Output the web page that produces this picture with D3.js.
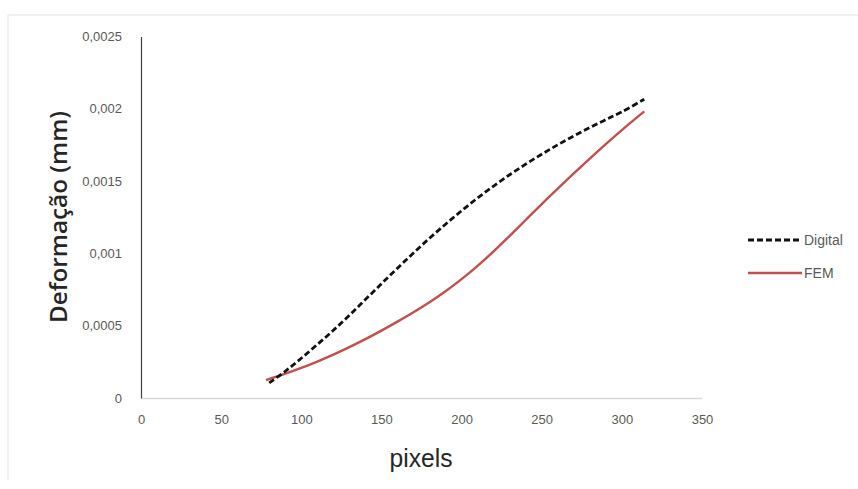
<!DOCTYPE html>
<html>
<head>
<meta charset="utf-8">
<script src="https://cdn.jsdelivr.net/npm/d3@7"></script>
<style>
  html, body { margin: 0; padding: 0; background: #fff; }
  svg { display: block; }
</style>
</head>
<body>
<svg id="chart" width="858" height="489"></svg>
<script>
// Displacement vs. pixel position: digital measurement against FEM model
const digitalX = [80, 90, 100, 110, 120, 130, 140, 150, 160, 170, 180, 190, 200, 210, 220, 230, 240, 250, 260, 270, 280, 290, 300, 314];
const digitalY = [0.000104, 0.000185, 0.000275, 0.00037, 0.000468, 0.000572, 0.000681, 0.00079, 0.000898, 0.001003, 0.001105, 0.001202, 0.001295, 0.001383, 0.001466, 0.001544, 0.001617, 0.001686, 0.001751, 0.001812, 0.00187, 0.001925, 0.001979, 0.002066];

const femX = [78, 90, 100, 110, 120, 130, 140, 150, 160, 170, 180, 190, 200, 210, 220, 230, 240, 250, 260, 270, 280, 290, 300, 314];
const femY = [0.000124, 0.000168, 0.000208, 0.000252, 0.0003, 0.000352, 0.000407, 0.000466, 0.000528, 0.000593, 0.000662, 0.000738, 0.000822, 0.000914, 0.001014, 0.001121, 0.001231, 0.001341, 0.001448, 0.001553, 0.001656, 0.001756, 0.001853, 0.001982];

const xTicks = [0, 50, 100, 150, 200, 250, 300, 350];
const yTicks = [0, 0.0005, 0.001, 0.0015, 0.002, 0.0025];
const yTickLabels = ["0", "0,0005", "0,001", "0,0015", "0,002", "0,0025"];

const seriesNames = ["Digital", "FEM"];

const svg = d3.select("#chart");
const tickFont = "'Liberation Sans', Arial, sans-serif";

const x = d3.scaleLinear().domain([0, 350]).range([141, 702]);
const y = d3.scaleLinear().domain([0, 0.0025]).range([398, 36.5]);

// outer frame (top and left edges only visible)
svg.append("line").attr("x1", 8).attr("x2", 858).attr("y1", 15).attr("y2", 15)
  .attr("stroke", "#e3e3e3").attr("stroke-width", 1);
svg.append("line").attr("x1", 8).attr("x2", 8).attr("y1", 15).attr("y2", 480)
  .attr("stroke", "#e3e3e3").attr("stroke-width", 1);

// x axis
const xAxis = svg.append("g").attr("transform", `translate(0,${y(0)})`)
  .call(d3.axisBottom(x).tickValues(xTicks).tickSize(0).tickPadding(17).tickFormat(d3.format("d")));
xAxis.select(".domain").attr("stroke", "#d9d9d9").attr("stroke-width", 1.5);
xAxis.selectAll("text").attr("font-family", tickFont).attr("font-size", 13).attr("fill", "#595959");

// y axis
const yAxis = svg.append("g").attr("transform", `translate(${x(0)},0)`)
  .call(d3.axisLeft(y).tickValues(yTicks).tickSize(0).tickPadding(19)
    .tickFormat((d, i) => yTickLabels[i]));
yAxis.select(".domain").attr("stroke", "#404040").attr("stroke-width", 1.2);
yAxis.selectAll("text").attr("font-family", tickFont).attr("font-size", 13).attr("fill", "#595959");

// axis titles
svg.append("text")
  .attr("transform", `translate(67,217) rotate(-90)`)
  .attr("text-anchor", "middle")
  .attr("font-family", "'Open Sans', 'DejaVu Sans', sans-serif")
  .attr("font-size", 23).attr("font-weight", 600).attr("fill", "#262626")
  .attr("textLength", 212).attr("lengthAdjust", "spacingAndGlyphs")
  .text("Deformação (mm)");

svg.append("text")
  .attr("x", 421).attr("y", 467)
  .attr("text-anchor", "middle")
  .attr("font-family", tickFont)
  .attr("font-size", 26).attr("fill", "#262626")
  .attr("textLength", 63).attr("lengthAdjust", "spacingAndGlyphs")
  .text("pixels");

// series
const line = d3.line().x(d => x(d[0])).y(d => y(d[1])).curve(d3.curveCatmullRom);

const femData = femX.map((v, i) => [v, femY[i]]);
const digitalData = digitalX.map((v, i) => [v, digitalY[i]]);

svg.append("path").datum(femData).attr("d", line)
  .attr("fill", "none").attr("stroke", "#c0504d").attr("stroke-width", 2.4);

svg.append("path").datum(digitalData).attr("d", line)
  .attr("fill", "none").attr("stroke", "#111").attr("stroke-width", 2.8)
  .attr("stroke-dasharray", "6,3");

// legend
const legend = svg.append("g");
const legendItems = [
  { name: seriesNames[0], y: 240, stroke: "#111", dash: "6,3", w: 2.8 },
  { name: seriesNames[1], y: 273, stroke: "#c0504d", dash: null, w: 2.4 }
];
legendItems.forEach(it => {
  legend.append("line").attr("x1", 748).attr("x2", 802).attr("y1", it.y).attr("y2", it.y)
    .attr("stroke", it.stroke).attr("stroke-width", it.w)
    .attr("stroke-dasharray", it.dash);
  legend.append("text").attr("x", 804).attr("y", it.y + 5)
    .attr("font-family", tickFont).attr("font-size", 14).attr("fill", "#595959")
    .text(it.name);
});
</script>
</body>
</html>
